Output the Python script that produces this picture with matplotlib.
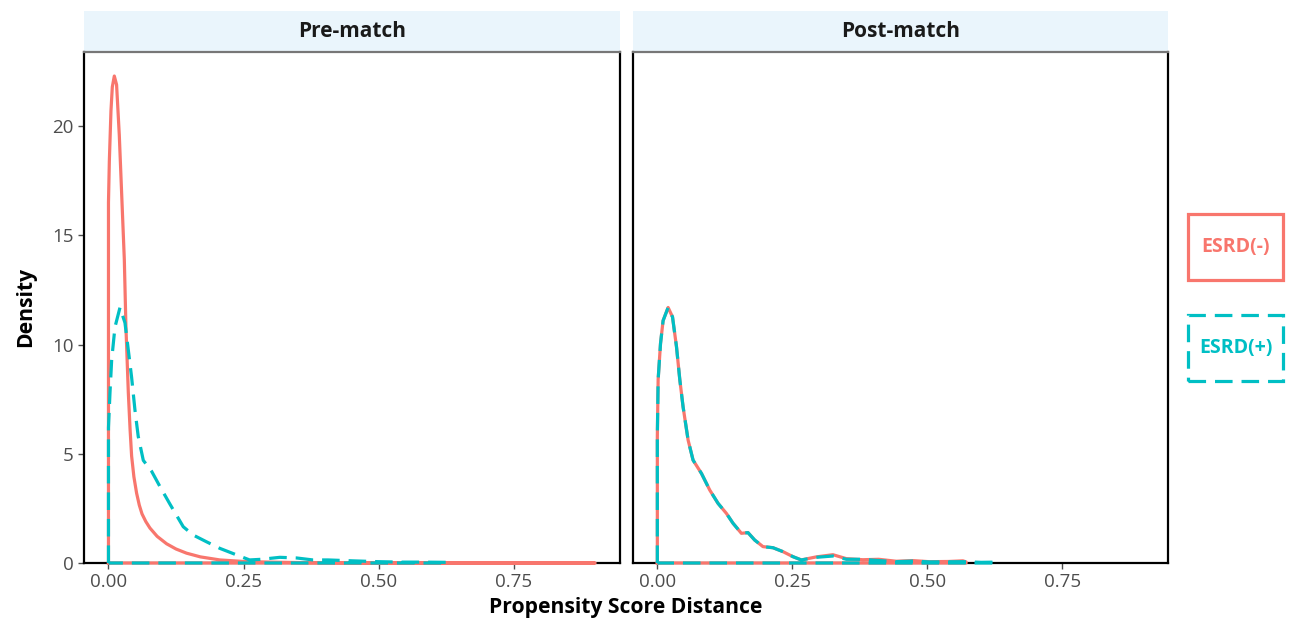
import matplotlib
matplotlib.use("Agg")
import matplotlib.pyplot as plt
from matplotlib.patches import Rectangle

plt.rcParams['font.family'] = ['Open Sans', 'DejaVu Sans']

# --- datos ---
paneles = ['Pre-match', 'Post-match']
grupos = ['ESRD(-)', 'ESRD(+)']

# Pre-match, ESRD(-)
pre_neg_x = [0.0, 0.0, 0.0016, 0.0046, 0.0071, 0.0108, 0.015, 0.020, 0.0244, 0.0293,
             0.0323, 0.0367, 0.0400, 0.0428, 0.047, 0.052, 0.057, 0.062, 0.069, 0.0767,
             0.09, 0.1075, 0.125, 0.1444, 0.17, 0.206, 0.25, 0.30, 0.35, 0.45, 0.60,
             0.75, 0.90]
pre_neg_y = [0.0, 16.5, 18.4, 20.7, 21.8, 22.3, 21.9, 19.6, 16.9, 13.9,
             10.8, 7.8, 6.1, 4.9, 3.95, 3.2, 2.65, 2.25, 1.9, 1.6,
             1.22, 0.88, 0.64, 0.45, 0.28, 0.14, 0.07, 0.04, 0.02, 0.01, 0.005,
             0.002, 0.0]

# Pre-match, ESRD(+)
pre_pos_x = [0.0, 0.0, 0.0028, 0.0059, 0.012, 0.0213, 0.0305, 0.0367, 0.0428, 0.049,
             0.055, 0.0644, 0.0798, 0.0952, 0.1136, 0.1383, 0.1567, 0.1814, 0.206, 0.237,
             0.261, 0.283, 0.317, 0.348, 0.378, 0.406, 0.45, 0.50, 0.54, 0.58, 0.627]
pre_pos_y = [0.0, 6.2, 7.8, 9.3, 10.8, 11.7, 11.0, 9.75, 8.5, 7.0,
             5.8, 4.7, 4.2, 3.5, 2.7, 1.66, 1.28, 0.97, 0.67, 0.37,
             0.14, 0.17, 0.26, 0.23, 0.14, 0.14, 0.1, 0.06, 0.04, 0.04, 0.03]

# Post-match, ESRD(-)
post_neg_x = [0.0, 0.0, 0.0015, 0.0059, 0.0107, 0.020, 0.0281, 0.0355, 0.0416, 0.0477,
              0.057, 0.0662, 0.0818, 0.0971, 0.1125, 0.128, 0.1402, 0.1557, 0.168, 0.1804,
              0.1957, 0.2142, 0.2327, 0.2512, 0.2667, 0.2945, 0.3252, 0.35, 0.3807, 0.41,
              0.4425, 0.473, 0.504, 0.54, 0.566, 0.572]
post_neg_y = [0.0, 5.8, 8.4, 10.05, 11.1, 11.7, 11.27, 9.9, 8.4, 7.15,
              5.63, 4.71, 4.1, 3.34, 2.73, 2.27, 1.82, 1.36, 1.39, 1.05,
              0.75, 0.7, 0.52, 0.29, 0.14, 0.28, 0.38, 0.2, 0.15, 0.17,
              0.08, 0.11, 0.06, 0.07, 0.1, 0.05]

# Post-match, ESRD(+)
post_pos_x = [0.0, 0.0, 0.0015, 0.0059, 0.0107, 0.020, 0.0281, 0.0355, 0.0416, 0.0477,
              0.057, 0.0662, 0.0818, 0.0971, 0.1125, 0.128, 0.1402, 0.1557, 0.168, 0.1804,
              0.1957, 0.2142, 0.2327, 0.2512, 0.2667, 0.2945, 0.3252, 0.35, 0.3807, 0.405,
              0.4425, 0.473, 0.504, 0.566, 0.60, 0.628]
post_pos_y = [0.0, 5.8, 8.4, 10.05, 11.1, 11.7, 11.27, 9.9, 8.4, 7.15,
              5.63, 4.71, 4.1, 3.34, 2.73, 2.27, 1.82, 1.36, 1.39, 1.05,
              0.75, 0.7, 0.52, 0.29, 0.14, 0.26, 0.32, 0.17, 0.17, 0.12,
              0.06, 0.09, 0.05, 0.06, 0.03, 0.04]

curvas = {
    'Pre-match': [(pre_neg_x, pre_neg_y), (pre_pos_x, pre_pos_y)],
    'Post-match': [(post_neg_x, post_neg_y), (post_pos_x, post_pos_y)],
}

x_ticks = [0.0, 0.25, 0.50, 0.75]
x_tick_labels = ['0.00', '0.25', '0.50', '0.75']
y_ticks = [0, 5, 10, 15, 20]

colores = ['#F8766D', '#00BFC4']
estilos = ['-', (0, (5.5, 2.8))]

# --- figura ---
W, H = 1292, 622
fig = plt.figure(figsize=(W / 100, H / 100), dpi=100)

posiciones = [
    [83.6 / W, (H - 563) / H, (620 - 83.6) / W, (563 - 52) / H],
    [632.5 / W, (H - 563) / H, (1168 - 632.5) / W, (563 - 52) / H],
]

gris = '#4D4D4D'
for i, panel in enumerate(paneles):
    ax = fig.add_axes(posiciones[i])
    for j, (xs, ys) in enumerate(curvas[panel]):
        # contorno completo como geom_density (curva + base)
        px = list(xs) + [xs[-1], xs[0]]
        py = list(ys) + [0.0, 0.0]
        ax.plot(px, py, color=colores[j], lw=2.3, linestyle=estilos[j],
                solid_joinstyle='round', clip_on=False, zorder=3 + j)
    ax.set_xlim(-0.046, 0.946)
    ax.set_ylim(0, 23.4)
    ax.set_xticks(x_ticks)
    ax.set_xticklabels(x_tick_labels)
    ax.set_yticks(y_ticks)
    ax.tick_params(colors=gris, labelsize=13.5, length=4, width=1, pad=3)
    if i == 1:
        ax.tick_params(axis='y', left=False, labelleft=False)
    for lado in ['left', 'right', 'bottom']:
        ax.spines[lado].set_color('black')
        ax.spines[lado].set_linewidth(1.6)
    ax.spines['top'].set_color('#777777')
    ax.spines['top'].set_linewidth(1.6)
    # franja del titulo del panel
    h_strip = 41 / 511
    ax.add_patch(Rectangle((0, 1), 1, h_strip, transform=ax.transAxes,
                           facecolor='#EAF5FC', edgecolor='none', clip_on=False))
    ax.text(0.5, 1 + h_strip / 2, panel, transform=ax.transAxes, ha='center',
            va='center', fontsize=15, fontweight='bold', color='#1A1A1A')

fig.text(626 / W, 1 - 607 / H, 'Propensity Score Distance', ha='center', va='center',
         fontsize=15.2, fontweight='bold', color='black')
fig.text(26 / W, 1 - 307 / H, 'Density', ha='center', va='center', rotation=90,
         fontsize=15.2, fontweight='bold', color='black')

# --- leyenda ---
cajas = [(1188, 214), (1188, 315)]
for j, g in enumerate(grupos):
    x0, y0 = cajas[j]
    fig.patches.append(Rectangle((x0 / W, 1 - (y0 + 66) / H), 95 / W, 66 / H,
                                 transform=fig.transFigure, facecolor='white',
                                 edgecolor=colores[j], lw=2.3, linestyle=estilos[j]))
    fig.text((x0 + 47.5) / W, 1 - (y0 + 33) / H, g, ha='center', va='center',
             fontsize=14, fontweight='bold', color=colores[j])

fig.savefig('out.png', dpi=100)
